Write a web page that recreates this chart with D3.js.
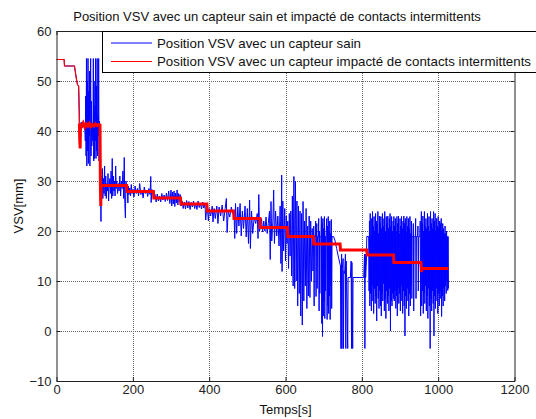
<!DOCTYPE html>
<html><head><meta charset="utf-8">
<script src="https://cdn.jsdelivr.net/npm/d3@7"></script>
<style>
html,body{margin:0;padding:0;background:#fff;}
text{font-family:"Liberation Sans",Arial,sans-serif;}
</style></head>
<body>
<svg id="c" width="536" height="419"></svg>
<script>
const titleText = "Position VSV avec un capteur sain et impacté de contacts intermittents";
const legendLabels = ["Position VSV avec un capteur sain", "Position VSV avec un capteur impacté de contacts intermittents"];
const xLabel = "Temps[s]";
const yLabel = "VSV[mm]";
const xTickVals = [0,200,400,600,800,1000,1200];
const yTickVals = [-10,0,10,20,30,40,50,60];

// red : sensor with intermittent contacts  [t, value]
const redDescent = [[0,54.3],[20,54.3],[21,53],[47,53],[49,52],[51,51],[53,50],[55,49.3],[58,49],[59.5,44],[60,41.5]];
const redSteps = [[60,41.5],[61,38],[62,36.5],[63,41.5],[66,41],[70,41.6],[74,40.8],[78,41.4],[82,41],[86,41.5],[90,40.9],[94,41.3],[98,41],[102,41.4],[106,41.1],[110,41.3],[114,41.2],
 [115,29],[116,25],[117,29.1],[184,29.1],[185,27.9],[254,27.9],[255,26.6],[325,26.6],[326,25.4],[394,25.4],[395,24],[464,24],
 [465,22.5],[533,22.5],[534,20.7],[605,20.7],[606,18.9],[673,18.9],[674,17.4],[743,17.4],[744,16.2],[813,16.2],[814,15.2],[883,15.2],
 [884,13.7],[955,13.7],[956,11.8],[957,12.5],[1027,12.5]];

// blue : healthy sensor  [t, value]
const blueA = [[0,54.3],[20,54.3],[21,53],[47,53],[49,52],[51,51],[53,50],[55,49.3],[58,49],[59.5,44],[60,41.5]];
const blueB = [[62,41],[65,41.8],[68,40.7],[71,41.5],[74,40.9],[75.5,38],[76.5,47],[77.5,35],[78.5,54.5],[79.5,33],[80.5,50],[81.5,36],[82.5,54.5],[83.5,33.5],[84.5,48],[85.5,39],[86.5,52],[87.5,33],[88.5,44],[89.5,54.5],[90.5,35],[91.5,46],[92.5,37],[94,41],[95.5,38],[96.5,54.5],[97.5,34],[98.5,50],[99.5,34.5],[100.5,45],[101.5,38],[102.5,54.5],[103.5,34.5],[104.5,49],[105.5,36],[106.5,54.5],[107.5,35],[108.5,43],[109.5,39],[110.5,54.5],[111.5,34],[112.5,42],[113.5,40],[114.5,41]];
const blueC = [[115.5,29],[116.5,21.9],[117.5,31],[118.5,27],[120,32.5],[121.5,26.5],[123,30.5],[124.5,27.5],[126,33],[127.5,27],[129,31],[130.5,26.5],[132,29.5],[133.5,28],[135,31.5],[136.5,26],[138,29],[140,30.5],[141.5,27.5],[143,32],[144.5,26.5],[146,34.5],[147.5,27],[149,31],[150.5,28],[152,30],[153.5,27],[155,33],[156.5,28.5],[158,30],[160,27.5],[162,29.5],[164,28],[166,31],[168,27],[170,30],[172,28.5],[174,32],[176,26.5],[177.5,34.7],[179,25.5],[180.5,22.6],[182,30],[184,28]];
const blueD = [[186,28],[187,25.6],[188,29],[190,27.3],[192,28.6],[194,27],[196,29.3],[198,27.5],[200,28.3],[203,26.8],[206,29],[209,27.5],[212,28.5],[215,27],[218,29.5],[221,27.3],[224,28.2],[227,26.6],[230,28.8],[233,27.5],[236,28.2],[239,26.9],[242,28.5],[245,27.3],[247,30.9],[248,25.7],[250,28.3],[252,27.5],[254,28]];
const blueE = [[256,26.5],[258,27.3],[261,25.8],[264,27.4],[267,26],[270,27],[273,25.8],[276,27.5],[279,26.2],[282,27.2],[285,25.9],[288,27.6],[291,26.1],[294,28],[297,25.5],[300,28.2],[302,25],[304,27.8],[306,25.4],[308,28],[310,24.9],[312,27.6],[314,25.6],[316,28.2],[318,25.2],[320,27.5],[322,25.8],[324,27.3]];
const blueF = [[326,25],[329,26],[332,24.5],[335,25.8],[338,24.4],[341,26.1],[344,24.6],[347,25.9],[350,24.3],[353,25.7],[356,24.8],[359,26],[362,24.5],[365,25.6],[368,24.3],[371,26],[374,24.7],[377,25.5],[380,24.4],[383,25.8],[386,24.6],[389,25.4],[391,22.2],[394,25]];
const blueG = [[396,24],[398,22],[400,24.5],[404,23],[408,25],[410,21.8],[413,24.5],[416,22.5],[420,25],[423,21.5],[426,24.8],[430,23],[434,25.2],[438,22],[442,24.5],[445,26.5],[447,19.7],[450,24],[454,22.8],[458,24.8],[462,23.5]];
const blueH = [[465,24],[467,18.5],[469,25.5],[472,19.5],[475,24.8],[478,21],[481,25.5],[484,19],[487,24],[490,20.5],[494,25],[497,18.8],[500,24.5],[503,17.5],[506,26.2],[508,16.5],[511,24],[514,19.5],[518,22.8],[522,21.5],[526,23.5],[528,18.5],[530,27.3],[532,20]];
const blueI = [[534,21],[537,22.5],[540,19.8],[543,22],[546,20],[549,22.8],[552,19.5],[555,21.5],[558,24],[560,14.3],[562,25.9],[564,18],[567,22],[569,28.2],[571,17.5],[574,24],[577,19],[580,23],[583,17],[586,25],[588,13.5],[590,31.2],[591,11.9],[593,26],[595,16],[598,24.5],[600,14],[602,23],[604,17.5]];
const blueJ = [[606,22],[608,12.5],[610,23.5],[612,15],[614,24],[616,11],[618,27],[620,9],[622,30.9],[624,8.5],[626,30],[628,10],[630,26],[632,5],[634,25],[636,7.5],[638,24],[640,3],[642,23.5],[644,1.2],[646,25.9],[648,6],[650,22],[652,9],[654,24.5],[656,4.5],[658,21],[660,7],[662,23],[664,6.7],[666,22],[668,10],[670,20.5],[672,12]];
const blueK = [[674,21],[675,5],[676,19],[678,18.9],[679,22],[680,6.9],[681,18.9],[682,21.5],[683,8.5],[684,18.9],[686,18.9],[687,22.5],[688,4],[689,20],[690,7.5],[691,18.9],[693,18.9],[694,22.9],[695,1.5],[696,21.5],[697,-1.1],[698,22.5],[699,3],[700,20.5],[701,6],[702,22.9],[703,2.5],[704,19],[705,8],[706,18.9],[708,22.5],[709,2.3],[710,21],[711,5],[712,22.9],[713,3.5],[714,20],[715,7],[716,22],[717,2.3],[718,19.5],[719,9],[720,22.3],[721,4.5],[722,18.9],[726,18.9],[730,18],[734,16.5],[738,15],[741,14],[744,13],[745,-3.5],[746,-3.5],[747,15.4],[748,-3.5],[749,12.5],[751,14.5],[752,-3.5],[753,12],[755,11.5],[757,15.4],[758,-3.5],[759,14],[760,10.7],[763,-3.5],[764,10.7],[770,10.7],[772,14],[773,-3.5],[774,13.7],[776,-3.5],[777,10.7],[785,10.7],[795,10.7],[805,10.7],[807,15.4],[808,-3.5],[809,15.4],[810,10.7],[812,14]];
const blueL = [[813,18.9],[818,18.9],[819,8],[820,22],[821,5],[822,23.5],[823,7.5],[824,18.9],[825,4],[826,22.5],[827,9],[828,23.9],[829,6],[830,21],[831,3.5],[832,22.9],[833,8.5],[834,20],[835,5.5],[836,23.5],[837,7],[838,22],[839,2],[840,21.5],[841,9],[842,23.9],[843,6.5],[844,19.5],[845,4.5],[846,23],[847,8],[848,21.5],[849,5],[850,22.9],[851,3],[852,20.5],[853,7.5],[854,23.5],[855,6],[856,21],[857,9.5],[858,22.5],[859,4],[860,23.9],[861,6.5],[862,20],[863,2.5],[864,22.9],[865,8],[866,21.5],[867,5.5],[868,23],[869,7],[870,20.5],[871,4],[872,22.5],[873,8.5],[874,23.5],[875,0],[876,21],[877,6],[878,22.9],[879,5],[880,20],[881,7.5],[882,22],[883,6.5]];
const blueM = [[884,22.9],[885,6],[886,21],[887,8],[888,22.5],[889,4.5],[890,20],[891,7],[892,22.9],[893,3],[894,21.5],[895,8.5],[896,23],[897,5.5],[898,19.5],[899,7.5],[900,22.5],[901,4],[902,21],[903,9],[904,22.9],[905,6],[906,20.5],[907,3.5],[908,22],[909,8],[910,23],[911,5],[912,21.5],[913,-1],[914,22.5],[915,7],[916,20],[917,4.5],[918,22.9],[919,8.5],[920,21],[921,6],[922,22.5],[923,3],[924,20.5],[925,7.5],[926,22.9],[927,5],[928,19.5],[929,9],[930,22],[931,6.5],[932,18.9],[934,18.9],[935,21.5],[936,4],[937,18.9],[940,18.9],[941,22.5],[942,6.5],[943,18.9],[946,18.9],[947,21],[948,8],[949,18.9],[952,18.9],[953,22],[954,3],[955,18.9]];
const blueN = [[956,23.9],[957,5],[958,21.5],[959,8],[960,23],[961,3.5],[962,20],[963,7.5],[964,23.9],[965,5.5],[966,21],[967,9],[968,22.5],[969,4],[970,20.5],[971,7],[972,23.5],[973,2.5],[974,21],[975,8.5],[976,22.9],[977,5],[978,20],[979,-3.5],[980,23.9],[981,6.5],[982,21.5],[983,4],[984,22.5],[985,8],[986,20.5],[987,5.5],[988,23.9],[989,-1],[990,22],[991,7],[992,23.5],[993,4.5],[994,20],[995,8.5],[996,22.5],[997,6],[998,21],[999,3.5],[1000,22.9],[1001,7.5],[1002,20.5],[1003,5],[1004,22],[1005,8],[1006,21.5],[1007,6.5],[1008,22.5],[1009,2.9],[1010,20],[1011,7],[1012,21.5],[1013,5],[1014,20.5],[1015,8.5],[1016,19.5],[1017,6],[1018,21],[1019,9],[1020,19.5],[1021,7.5],[1022,20],[1023,10],[1024,18.9],[1025,8.1],[1026,18.9],[1027,8.5]];
const blueSeries = [].concat(blueA, blueB, blueC, blueD, blueE, blueF, blueG, blueH, blueI, blueJ, blueK, blueL, blueM, blueN);

const svg = d3.select("#c");
const x = d3.scaleLinear().domain([0,1200]).range([56.5,514.5]);
const y = d3.scaleLinear().domain([-10,60]).range([381,31]);

// grid
const grid = svg.append("g").attr("stroke","#666").attr("stroke-width",1).attr("stroke-dasharray","1,1").attr("shape-rendering","crispEdges");
grid.selectAll(".gx").data(xTickVals.slice(1,-1)).join("line")
  .attr("x1",d=>Math.round(x(d))+0.5).attr("x2",d=>Math.round(x(d))+0.5).attr("y1",y(60)).attr("y2",y(-10));
grid.selectAll(".gy").data(yTickVals.slice(1,-1)).join("line")
  .attr("y1",d=>Math.round(y(d))+0.5).attr("y2",d=>Math.round(y(d))+0.5).attr("x1",x(0)).attr("x2",x(1200));

// lines
const line = d3.line().x(d=>x(d[0])).y(d=>y(d[1]));
svg.append("path").datum(blueSeries).attr("d",line).attr("fill","none").attr("stroke","#0000ff").attr("stroke-width",1);
svg.append("path").datum(redDescent).attr("d",line).attr("fill","none").attr("stroke","#ff0000").attr("stroke-width",1.2);
svg.append("path").datum(redSteps).attr("d",line).attr("fill","none").attr("stroke","#ff0000").attr("stroke-width",3);

// axes
function styleAxis(g){
  g.selectAll(".domain").attr("stroke","#222");
  g.selectAll(".tick line").attr("stroke","#222");
  g.selectAll("text").attr("font-size","13px").attr("fill","#222").attr("font-family","'Liberation Sans',Arial,sans-serif");
}
svg.append("g").attr("transform",`translate(0,${y(-10)})`)
  .call(d3.axisBottom(x).tickValues(xTickVals).tickFormat(d3.format("d")).tickSize(-4).tickSizeOuter(0).tickPadding(4)).call(styleAxis);
svg.append("g").attr("transform",`translate(${x(0)},0)`)
  .call(d3.axisLeft(y).tickValues(yTickVals).tickFormat(d3.format("d")).tickSize(-4).tickSizeOuter(0).tickPadding(5)).call(styleAxis);
svg.append("g").attr("transform",`translate(0,${y(60)})`)
  .call(d3.axisTop(x).tickValues(xTickVals).tickSize(-4).tickSizeOuter(0).tickFormat("")).call(styleAxis);
svg.append("g").attr("transform",`translate(${x(1200)},0)`)
  .call(d3.axisRight(y).tickValues(yTickVals).tickSize(-4).tickSizeOuter(0).tickFormat("")).call(styleAxis);

// title & labels
svg.append("text").attr("x",277).attr("y",21).attr("text-anchor","middle").attr("font-size","13px").attr("fill","#111").text(titleText);
svg.append("text").attr("x",(x(0)+x(1200))/2).attr("y",414).attr("text-anchor","middle").attr("font-size","13px").attr("fill","#111").text(xLabel);
svg.append("text").attr("transform",`translate(23,${(y(60)+y(-10))/2}) rotate(-90)`).attr("text-anchor","middle").attr("font-size","13px").attr("fill","#111").text(yLabel);

// legend
const lg = svg.append("g");
lg.append("rect").attr("x",102.5).attr("y",31.5).attr("width",460).attr("height",41).attr("fill","#fff").attr("stroke","#000").attr("stroke-width",1);
const legendColors = ["#0000ff","#ff0000"];
const legendY = [43, 61.5];
legendLabels.forEach((lab,i)=>{
  lg.append("line").attr("x1",111).attr("x2",152).attr("y1",legendY[i]).attr("y2",legendY[i]).attr("stroke",legendColors[i]).attr("stroke-width",1);
  lg.append("text").attr("x",157).attr("y",legendY[i]+4.6).attr("font-size","13.3px").attr("fill","#111").text(lab);
});
</script>
</body></html>
